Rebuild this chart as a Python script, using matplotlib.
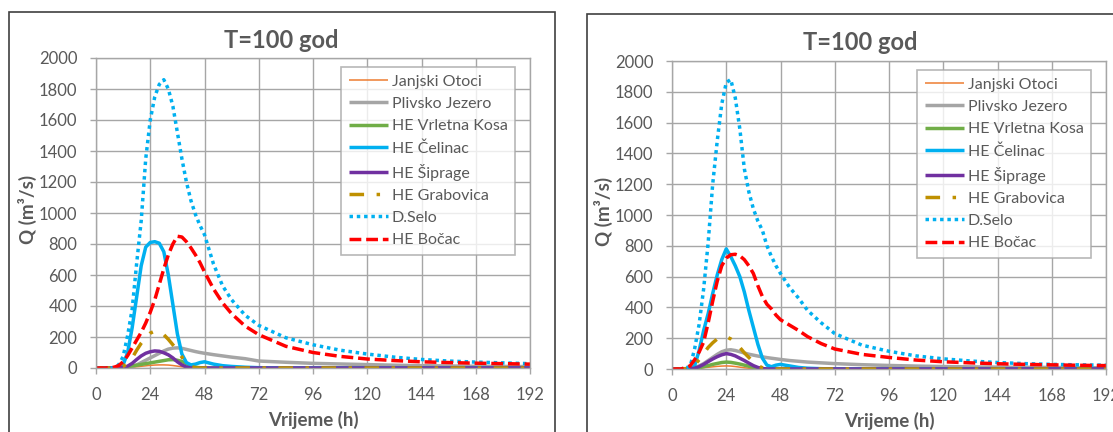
import matplotlib
matplotlib.use("Agg")
import matplotlib.pyplot as plt
from matplotlib.patches import Rectangle

plt.rcParams['font.family'] = ['Lato', 'DejaVu Sans']

# hours (common grid for every series)
hours = [0, 4, 8, 10, 12, 14, 16, 18, 20, 22, 24, 26, 28, 30, 32, 34, 36, 38, 40, 42,
         44, 46, 48, 52, 56, 60, 66, 72, 84, 96, 108, 120, 132, 144, 156, 168, 180, 192]

names = ["Janjski Otoci", "Plivsko Jezero", "HE Vrletna Kosa", "HE Čelinac",
         "HE Šiprage", "HE Grabovica", "D.Selo", "HE Bočac"]

# ---- left chart ----
janjski_a = [0, 0, 0, 0, 1, 3, 5, 8, 11, 14, 17, 19, 20, 20, 19, 16, 12, 8, 5, 3,
             2, 1, 1, 0, 0, 0, 0, 0, 0, 0, 0, 0, 0, 0, 0, 0, 0, 0]
plivsko_a = [0, 0, 0, 0, 0, 3, 10, 20, 35, 50, 65, 80, 95, 110, 122, 128, 130, 127, 120, 113,
             106, 100, 95, 86, 78, 70, 60, 45, 37, 30, 26, 22, 18, 15, 13, 11, 10, 9]
vrletna_a = [0, 0, 0, 0, 3, 8, 13, 18, 23, 28, 33, 38, 43, 48, 53, 54, 50, 42, 28, 14,
             5, 2, 0, 0, 0, 0, 0, 0, 0, 0, 0, 0, 0, 0, 0, 0, 0, 0]
celinac_a = [0, 0, 0, 0, 20, 100, 260, 460, 660, 780, 810, 815, 805, 750, 600, 410, 220, 90, 35, 20,
             25, 35, 40, 25, 15, 10, 5, 2, 0, 0, 0, 0, 0, 0, 0, 0, 0, 0]
siprage_a = [0, 0, 0, 0, 3, 12, 30, 55, 78, 95, 105, 110, 108, 98, 85, 65, 40, 20, 6, 0,
             0, 0, 0, 0, 0, 0, 0, 0, 0, 0, 0, 0, 0, 0, 0, 0, 0, 0]
grabovica_a = [0, 0, 0, 0, 10, 30, 65, 115, 160, 195, 225, 238, 235, 215, 185, 150, 115, 70, 35, 10,
               3, 0, 0, 0, 0, 0, 0, 0, 0, 0, 0, 0, 0, 0, 0, 0, 0, 0]
dselo_a = [0, 0, 0, 20, 73, 210, 380, 677, 950, 1350, 1600, 1750, 1830, 1860, 1800, 1690, 1520, 1350, 1200, 1080,
           990, 920, 860, 670, 530, 440, 340, 275, 195, 150, 115, 90, 70, 55, 45, 38, 33, 28]
bocac_a = [0, 0, 5, 15, 40, 80, 130, 180, 230, 290, 360, 440, 540, 640, 730, 800, 850, 845, 815, 775,
           730, 680, 620, 510, 420, 350, 270, 215, 140, 100, 75, 58, 48, 40, 35, 31, 28, 25]

# ---- right chart ----
janjski_b = [0, 0, 0, 2, 5, 8, 11, 14, 17, 19, 20, 19, 16, 12, 8, 5, 3, 2, 1, 0,
             0, 0, 0, 0, 0, 0, 0, 0, 0, 0, 0, 0, 0, 0, 0, 0, 0, 0]
plivsko_b = [0, 0, 0, 8, 20, 35, 55, 75, 95, 112, 122, 125, 120, 112, 104, 96, 90, 84, 79, 74,
             70, 66, 62, 55, 50, 45, 40, 35, 28, 23, 19, 16, 14, 12, 11, 10, 9, 8]
vrletna_b = [0, 0, 0, 3, 8, 15, 22, 30, 36, 42, 45, 43, 38, 32, 25, 18, 11, 6, 2, 0,
             0, 0, 0, 0, 0, 0, 0, 0, 0, 0, 0, 0, 0, 0, 0, 0, 0, 0]
celinac_b = [0, 0, 0, 20, 120, 250, 360, 490, 610, 710, 780, 730, 670, 600, 500, 380, 270, 160, 70, 25,
             15, 25, 30, 20, 10, 5, 2, 0, 0, 0, 0, 0, 0, 0, 0, 0, 0, 0]
siprage_b = [0, 0, 0, 5, 15, 30, 48, 65, 80, 92, 100, 95, 85, 70, 55, 38, 22, 10, 3, 0,
             0, 0, 0, 0, 0, 0, 0, 0, 0, 0, 0, 0, 0, 0, 0, 0, 0, 0]
grabovica_b = [0, 0, 5, 25, 60, 100, 140, 170, 195, 208, 210, 195, 170, 140, 105, 75, 45, 22, 8, 2,
               0, 0, 0, 0, 0, 0, 0, 0, 0, 0, 0, 0, 0, 0, 0, 0, 0, 0]
dselo_b = [0, 0, 15, 130, 290, 520, 820, 1200, 1480, 1720, 1860, 1880, 1760, 1560, 1300, 1150, 1040, 960, 900, 800,
           730, 670, 620, 530, 460, 380, 300, 230, 155, 115, 85, 66, 52, 42, 35, 30, 27, 25]
bocac_b = [0, 0, 20, 60, 110, 175, 300, 440, 570, 670, 720, 742, 745, 735, 710, 670, 620, 540, 470, 420,
           390, 350, 320, 285, 250, 210, 165, 130, 95, 75, 58, 47, 40, 34, 30, 27, 24, 22]

series_a = [janjski_a, plivsko_a, vrletna_a, celinac_a, siprage_a, grabovica_a, dselo_a, bocac_a]
series_b = [janjski_b, plivsko_b, vrletna_b, celinac_b, siprage_b, grabovica_b, dselo_b, bocac_b]

styles = [
    dict(color='#ED7D31', lw=1.1, ls='-'),
    dict(color='#A5A5A5', lw=2.5, ls='-'),
    dict(color='#70AD47', lw=2.5, ls='-'),
    dict(color='#00B0F0', lw=2.5, ls='-'),
    dict(color='#7030A0', lw=2.5, ls='-'),
    dict(color='#BF9000', lw=2.5, ls=(0, (4.2, 3.6, 1.0, 3.6))),
    dict(color='#00B0F0', lw=2.5, ls=(0, (1.0, 1.1))),
    dict(color='#FF0000', lw=2.5, ls=(0, (3.4, 1.4))),
]

txt = '#595959'
grid_c = '#A6A6A6'

W, H = 1113, 432
fig = plt.figure(figsize=(W / 100, H / 100), dpi=100)


def px_box(x0, y0, x1, y1):
    return [x0 / W, 1 - y1 / H, (x1 - x0) / W, (y1 - y0) / H]


def draw_panel(ax, data, title_x, title_y, leg_x):
    for vals, name, st in zip(data, names, styles):
        ax.plot(hours, vals, label=name, color=st['color'], lw=st['lw'], ls=st['ls'],
                solid_capstyle='butt', dash_capstyle='butt')
    ax.set_xlim(0, 192)
    ax.set_ylim(0, 2000)
    ax.set_xticks(range(0, 193, 24))
    ax.set_yticks(range(0, 2001, 200))
    ax.grid(True, color=grid_c, lw=1.0)
    ax.set_axisbelow(True)
    for sp in ax.spines.values():
        sp.set_color(grid_c)
        sp.set_linewidth(1.0)
    ax.tick_params(colors=grid_c, labelcolor=txt, labelsize=12, length=4.5, width=1.0, pad=9)
    ax.set_xlabel('Vrijeme (h)', fontsize=13.5, fontweight='bold', color=txt)
    ax.set_ylabel('Q (m³/s)', fontsize=13.5, fontweight='bold', color=txt)
    ax.xaxis.set_label_coords(0.5, -0.14)
    ax.yaxis.set_label_coords(-0.135, 0.513)
    leg = ax.legend(loc='upper left', bbox_to_anchor=(leg_x, 0.972), fontsize=11.5,
                    frameon=True, fancybox=False, handlelength=2.4, handletextpad=0.25,
                    labelspacing=0.5, borderpad=0.5, borderaxespad=0)
    leg.get_frame().set_edgecolor(grid_c)
    leg.get_frame().set_linewidth(1.2)
    for t in leg.get_texts():
        t.set_color(txt)
    fig.text(title_x / W, 1 - title_y / H, 'T=100 god', ha='center', va='center',
             fontsize=17, fontweight='bold', color=txt)


ax1 = fig.add_axes(px_box(96, 58, 530, 368))
draw_panel(ax1, series_a, 281, 40, 0.565)

ax2 = fig.add_axes(px_box(672, 61, 1106, 369))
draw_panel(ax2, series_b, 860, 42, 0.565)

# chart area borders
fig.patches.append(Rectangle((9 / W, -0.1), (555 - 9) / W, 1.1 - 12 / H,
                             transform=fig.transFigure, fill=False, ec='#404040', lw=1.2))
fig.patches.append(Rectangle((587 / W, -0.1), 0.5, 1.1 - 14 / H,
                             transform=fig.transFigure, fill=False, ec='#404040', lw=1.2))

fig.savefig('out.png', dpi=100)
